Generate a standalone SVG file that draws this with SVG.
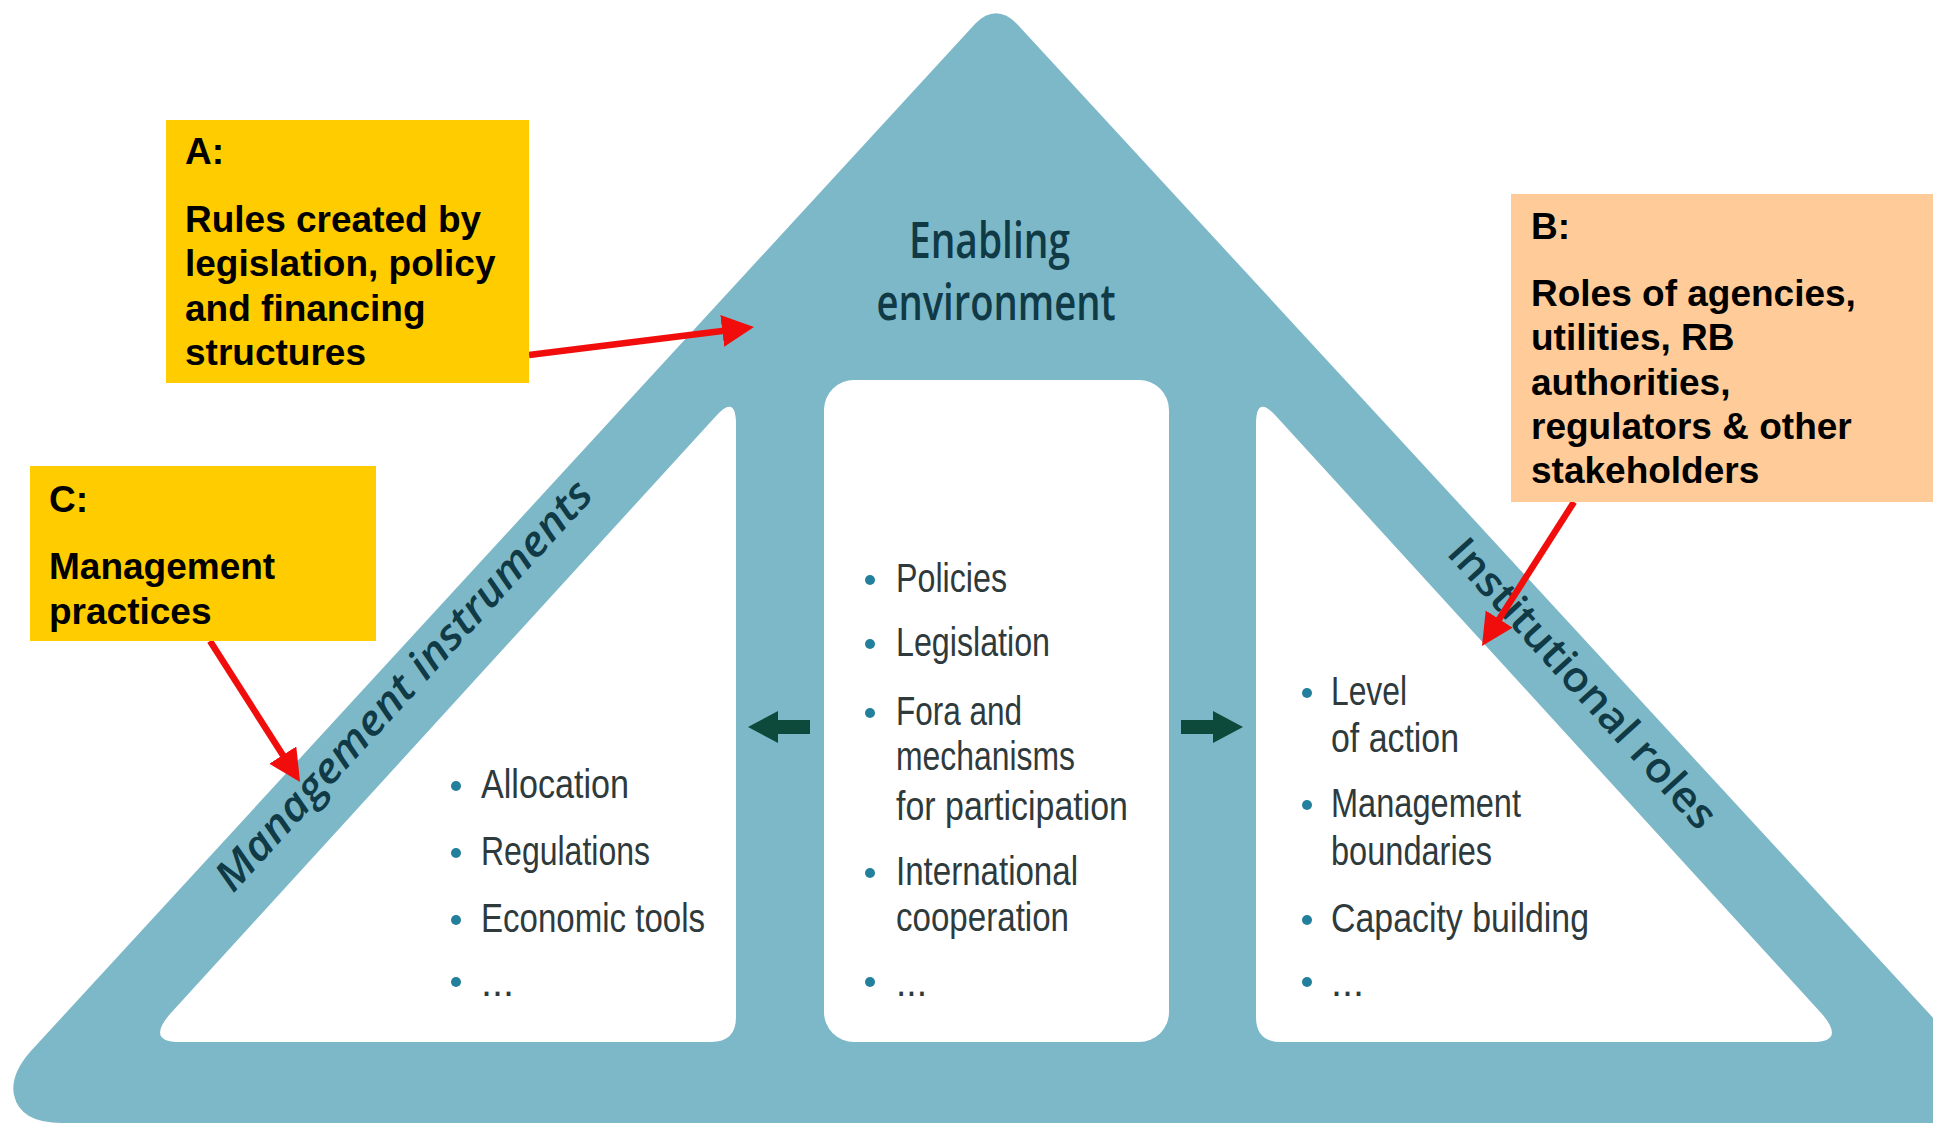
<svg xmlns="http://www.w3.org/2000/svg" width="1933" height="1129" viewBox="0 0 1933 1129">
  <style>
    .band { fill: #7db8c8; }
    .panel { fill: #ffffff; }
    .title { font-family: "Open Sans", "Lato", sans-serif; font-weight: 600; fill: #0f3a46; font-size: 50px; }
    .side { font-family: "Open Sans", "Lato", sans-serif; font-weight: 600; fill: #0f3a46; font-size: 42px; }
    .item { font-family: "Liberation Sans Narrow", "Liberation Sans", Arial, sans-serif; font-size: 40px; fill: #2e3a3c; }
    .dot { fill: #23809c; }
    .call { font-family: "Liberation Sans", Arial, sans-serif; font-weight: bold; font-size: 37px; fill: #000000; }
    .red { stroke: #f20d0d; stroke-width: 6.5; fill: none; }
    .flow { fill: #0d4a3c; }
  </style>
  <defs>
    <marker id="redHead" markerUnits="userSpaceOnUse" markerWidth="34" markerHeight="34" refX="8" refY="16" orient="auto">
      <path d="M0,0 L32,16 L0,32 z" fill="#f20d0d"/>
    </marker>
  </defs>

  <rect width="1933" height="1129" fill="#ffffff"/>

  <!-- triangle frame -->
  <g id="frame">
    <path class="band" d="M 975.2 23.7 Q 996 3 1016.8 23.7 L 2030 1123 L 62 1123 Q 20 1123 14 1095 Q 10 1075 30 1052 Z"/>
  </g>

  <!-- left panel: management instruments -->
  <g id="management-instruments">
    <path class="panel" d="M 715.8 416.2 Q 736 394 736 424 L 736 1017 Q 736 1042 711 1042 L 180 1042 Q 146 1042 170 1014 Z"/>
    <text class="side" font-style="italic" text-anchor="middle" textLength="538" lengthAdjust="spacingAndGlyphs" transform="translate(414 695) rotate(-47.7)">Management instruments</text>
    <circle class="dot" cx="456" cy="786" r="5"/>
    <text class="item" x="481" y="798" textLength="148" lengthAdjust="spacingAndGlyphs">Allocation</text>
    <circle class="dot" cx="456" cy="853" r="5"/>
    <text class="item" x="481" y="865" textLength="169" lengthAdjust="spacingAndGlyphs">Regulations</text>
    <circle class="dot" cx="456" cy="920" r="5"/>
    <text class="item" x="481" y="932" textLength="224" lengthAdjust="spacingAndGlyphs">Economic tools</text>
    <circle class="dot" cx="456" cy="982" r="5"/>
    <text class="item" x="481" y="996" textLength="33" lengthAdjust="spacingAndGlyphs">...</text>
  </g>

  <!-- centre panel: enabling environment -->
  <g id="enabling-environment">
    <text class="title" text-anchor="middle">
      <tspan x="996" y="258" textLength="161" lengthAdjust="spacingAndGlyphs">Enabling</tspan>
      <tspan x="996" y="320" textLength="239" lengthAdjust="spacingAndGlyphs">environment</tspan>
    </text>
    <rect class="panel" x="824" y="380" width="345" height="662" rx="30"/>
    <circle class="dot" cx="870" cy="580" r="5"/>
    <text class="item" x="896" y="592" textLength="111" lengthAdjust="spacingAndGlyphs">Policies</text>
    <circle class="dot" cx="870" cy="644" r="5"/>
    <text class="item" x="896" y="656" textLength="154" lengthAdjust="spacingAndGlyphs">Legislation</text>
    <circle class="dot" cx="870" cy="713" r="5"/>
    <text class="item">
      <tspan x="896" y="725" textLength="126" lengthAdjust="spacingAndGlyphs">Fora and</tspan>
      <tspan x="896" y="770" textLength="179" lengthAdjust="spacingAndGlyphs">mechanisms</tspan>
      <tspan x="896" y="820" textLength="232" lengthAdjust="spacingAndGlyphs">for participation</tspan>
    </text>
    <circle class="dot" cx="870" cy="873" r="5"/>
    <text class="item">
      <tspan x="896" y="885" textLength="182" lengthAdjust="spacingAndGlyphs">International</tspan>
      <tspan x="896" y="931" textLength="173" lengthAdjust="spacingAndGlyphs">cooperation</tspan>
    </text>
    <circle class="dot" cx="870" cy="982" r="5"/>
    <text class="item" x="896" y="996" textLength="31" lengthAdjust="spacingAndGlyphs">...</text>
  </g>

  <!-- right panel: institutional roles -->
  <g id="institutional-roles">
    <path class="panel" d="M 1276.2 416.2 Q 1256 394 1256 424 L 1256 1017 Q 1256 1042 1281 1042 L 1812 1042 Q 1846 1042 1822 1014 Z"/>
    <text class="side" text-anchor="middle" textLength="376" lengthAdjust="spacingAndGlyphs" transform="translate(1572 693) rotate(47.7)">Institutional roles</text>
    <circle class="dot" cx="1307" cy="693" r="5"/>
    <text class="item">
      <tspan x="1331" y="705" textLength="76" lengthAdjust="spacingAndGlyphs">Level</tspan>
      <tspan x="1331" y="752" textLength="128" lengthAdjust="spacingAndGlyphs">of action</tspan>
    </text>
    <circle class="dot" cx="1307" cy="805" r="5"/>
    <text class="item">
      <tspan x="1331" y="817" textLength="190" lengthAdjust="spacingAndGlyphs">Management</tspan>
      <tspan x="1331" y="865" textLength="161" lengthAdjust="spacingAndGlyphs">boundaries</tspan>
    </text>
    <circle class="dot" cx="1307" cy="920" r="5"/>
    <text class="item" x="1331" y="932" textLength="258" lengthAdjust="spacingAndGlyphs">Capacity building</text>
    <circle class="dot" cx="1307" cy="982" r="5"/>
    <text class="item" x="1331" y="996" textLength="33" lengthAdjust="spacingAndGlyphs">...</text>
  </g>

  <!-- exchange arrows between the panels -->
  <g id="exchange-arrows">
    <polygon class="flow" points="748,727 778,711 778,720 810,720 810,734 778,734 778,743"/>
    <polygon class="flow" points="1243,727 1213,711 1213,720 1181,720 1181,734 1213,734 1213,743"/>
  </g>

  <!-- callout connectors -->
  <g id="connectors">
    <line class="red" x1="529" y1="355" x2="730.2" y2="330" marker-end="url(#redHead)"/>
    <line class="red" x1="1574" y1="502" x2="1494.9" y2="625.8" marker-end="url(#redHead)"/>
    <line class="red" x1="210" y1="641" x2="287.1" y2="761.8" marker-end="url(#redHead)"/>
  </g>

  <!-- callout A -->
  <g id="callout-a">
    <rect x="166" y="120" width="363" height="263" fill="#ffcc00"/>
    <text class="call" x="185" y="164">A:</text>
    <text class="call">
      <tspan x="185" y="232">Rules created by</tspan>
      <tspan x="185" y="276">legislation, policy</tspan>
      <tspan x="185" y="321">and financing</tspan>
      <tspan x="185" y="365">structures</tspan>
    </text>
  </g>

  <!-- callout B -->
  <g id="callout-b">
    <rect x="1511" y="194" width="422" height="308" fill="#ffcc99"/>
    <text class="call" x="1531" y="239">B:</text>
    <text class="call">
      <tspan x="1531" y="306">Roles of agencies,</tspan>
      <tspan x="1531" y="350">utilities, RB</tspan>
      <tspan x="1531" y="395">authorities,</tspan>
      <tspan x="1531" y="439">regulators &amp; other</tspan>
      <tspan x="1531" y="483">stakeholders</tspan>
    </text>
  </g>

  <!-- callout C -->
  <g id="callout-c">
    <rect x="30" y="466" width="346" height="175" fill="#ffcc00"/>
    <text class="call" x="49" y="512">C:</text>
    <text class="call">
      <tspan x="49" y="579">Management</tspan>
      <tspan x="49" y="624">practices</tspan>
    </text>
  </g>
</svg>
